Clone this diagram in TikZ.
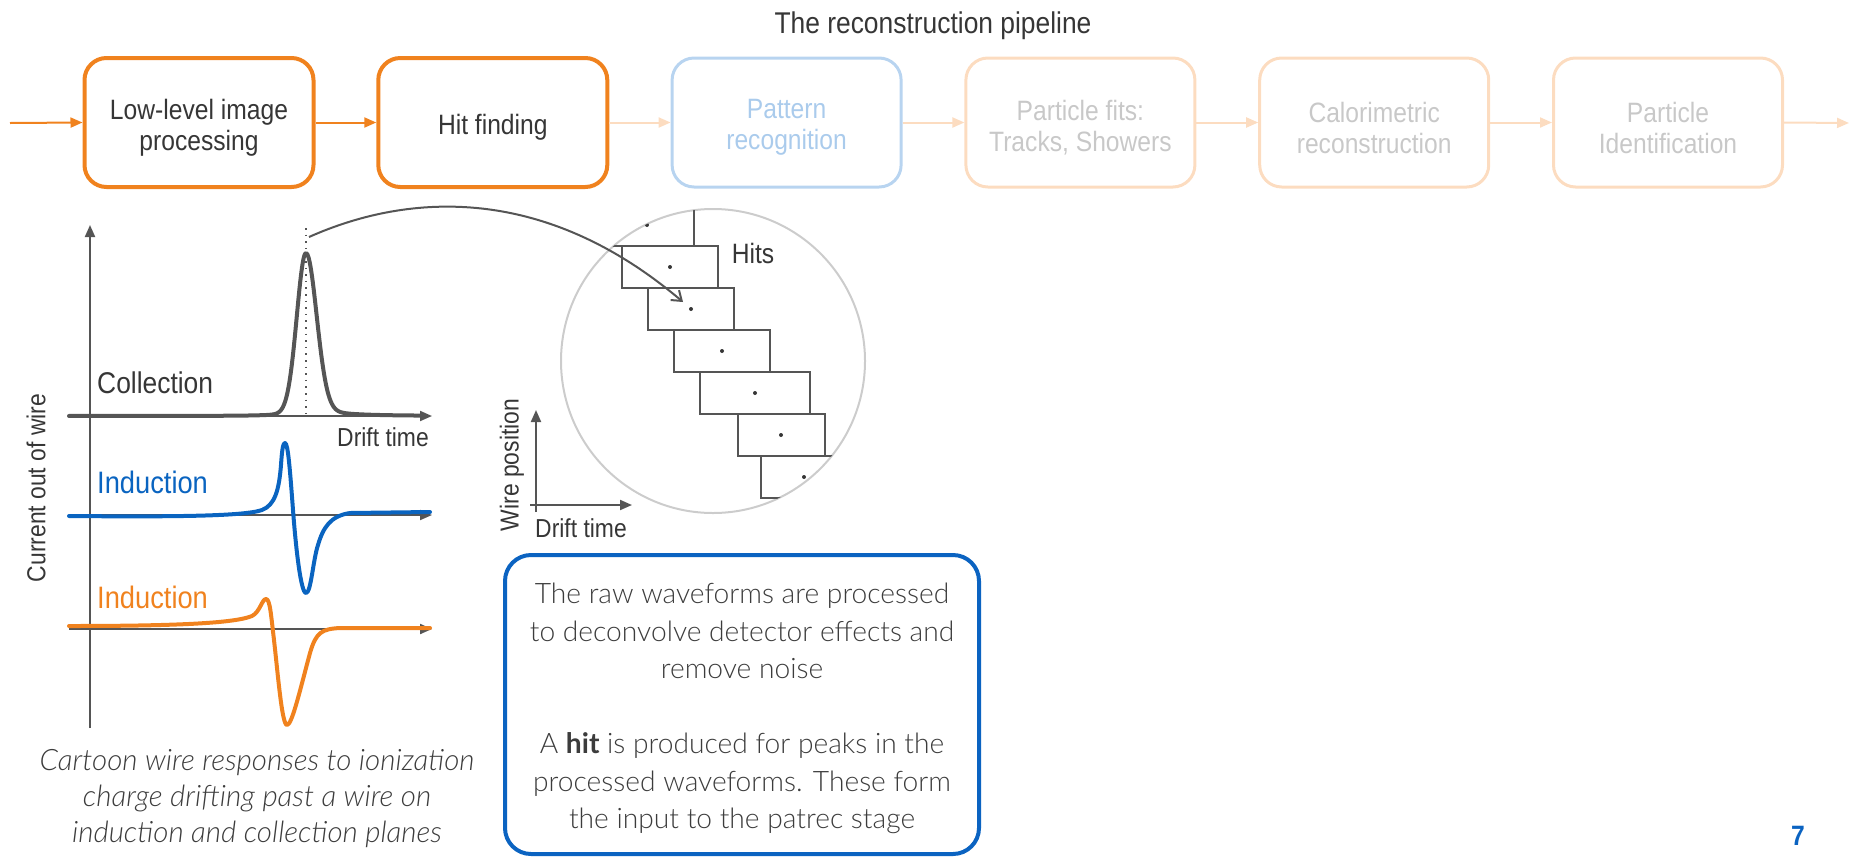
\documentclass[tikz,border=0pt]{standalone}
\usepackage{fontspec}
\setmainfont{Liberation Sans}[FakeStretch=0.88]
\newfontfamily\lato{Lato}[UprightFont=* Light, ItalicFont=* Light Italic, BoldFont=* Bold]
\usetikzlibrary{arrows.meta}

\definecolor{pipeorange}{HTML}{F0821E}
\definecolor{paleorange}{HTML}{FCDCC0}
\definecolor{paleblue}{HTML}{B8D4F0}
\definecolor{paletext}{HTML}{C8C8C8}
\definecolor{palebluetext}{HTML}{AACBEC}
\definecolor{ink}{HTML}{363636}
\definecolor{bodyink}{HTML}{3C3C3C}
\definecolor{axisgray}{HTML}{555555}
\definecolor{sigblue}{HTML}{0A64C0}
\definecolor{boxblue}{HTML}{0B63C1}
\definecolor{ringgray}{HTML}{CCCCCC}

\tikzset{
  stage/.style={draw, rounded corners=22pt, minimum width=229pt, minimum height=129pt, inner sep=0pt},
  activestage/.style={stage, draw=pipeorange, line width=4pt},
  nextstage/.style={stage, draw=paleblue, line width=3pt},
  laterstage/.style={stage, draw=paleorange, line width=3pt},
  stagetext/.style={align=center, inner sep=0pt, font=\fontsize{28}{31}\selectfont},
  flow/.style={line width=2pt, -{Triangle[length=12pt,width=10pt]}},
  axis/.style={draw=axisgray, line width=2pt, -{Triangle[length=12pt,width=10pt]}},
  signal/.style={line width=4pt, line cap=round, line join=round},
  hitbox/.style={draw=axisgray, line width=2pt},
  label/.style={inner sep=0pt, text=ink},
}

\begin{document}
\begin{tikzpicture}[x=1pt, y=-1pt]
\useasboundingbox (0,0) rectangle (1851,857);

% ---- pipeline header ----
\node[label, font=\fontsize{30}{34}\selectfont] (title) at (933,26) {The reconstruction pipeline};

\node[activestage] (s1) at (199,122.5) {};
\node[activestage] (s2) at (492.8,122.5) {};
\node[nextstage]   (s3) at (786.6,122.5) {};
\node[laterstage]  (s4) at (1080.4,122.5) {};
\node[laterstage]  (s5) at (1374.2,122.5) {};
\node[laterstage]  (s6) at (1668,122.5) {};

\node[stagetext, text=ink] (s1t) at ([yshift=-5pt]s1.center) {Low-level image\\processing};
\node[stagetext, text=ink] (s2t) at ([yshift=-5pt]s2.center) {Hit finding};
\node[stagetext, text=palebluetext] (s3t) at ([yshift=-5pt]s3.center) {Pattern\\recognition};
\node[stagetext, text=paletext] (s4t) at ([yshift=-5pt]s4.center) {Particle fits:\\Tracks, Showers};
\node[stagetext, text=paletext] (s5t) at ([yshift=-5pt]s5.center) {Calorimetric\\reconstruction};
\node[stagetext, text=paletext] (s6t) at ([yshift=-5pt]s6.center) {Particle\\Identification};

\coordinate (pin) at (10,123);
\coordinate (pout) at (1849,123);
\draw[flow, pipeorange] (pin) -- (s1.west);
\draw[flow, pipeorange] (s1.east) -- (s2.west);
\draw[flow, paleorange] (s2.east) -- (s3.west);
\draw[flow, paleorange] (s3.east) -- (s4.west);
\draw[flow, paleorange] (s4.east) -- (s5.west);
\draw[flow, paleorange] (s5.east) -- (s6.west);
\draw[flow, paleorange] (s6.east) -- (pout);

% ---- wire response cartoon ----
\coordinate (ybot) at (90,728);
\coordinate (ytop) at (90,225);
\draw[axis] (ybot) -- (ytop);
\coordinate (c0) at (69,416);  \coordinate (c1) at (432,416);
\coordinate (v0) at (69,515);  \coordinate (v1) at (432,515);
\coordinate (u0) at (69,629);  \coordinate (u1) at (432,629);
\draw[axis] (c0) -- (c1);
\draw[axis] (v0) -- (v1);
\draw[axis] (u0) -- (u1);

% collection: unipolar peak
\draw[signal, axisgray] plot[domain=69:420, samples=300, smooth]
  (\x, {416 - 155*exp(-((\x-306)/(\x<306 ? 13 : 15))^2) - 8/(1+((\x-306)/(\x<306 ? 15 : 28))^2)});
\coordinate (peaktop) at (306,228);
\coordinate (peakfoot) at (306,413);
\draw[axisgray, line width=1.6pt, dash pattern=on 1.6pt off 5pt] (peaktop) -- (peakfoot);

% induction (blue): bipolar
\draw[signal, sigblue] (69,516) .. controls (180,517) and (245,516) .. (262,510)
  .. controls (275,505) and (279,490) .. (281,465)
  .. controls (282,450) and (283,443) .. (285,443)
  .. controls (288,443) and (290,470) .. (293,510)
  .. controls (296,550) and (301,593) .. (306,593)
  .. controls (311,593) and (313,560) .. (318,545)
  .. controls (323,528) and (330,516) .. (350,513)
  -- (430,512);

% induction (orange): bipolar
\draw[signal, pipeorange] (69,626) .. controls (180,626) and (235,623) .. (252,616)
  .. controls (260,612) and (262,599) .. (266,599)
  .. controls (270,599) and (271,615) .. (274,640)
  .. controls (278,675) and (282,725) .. (287,725)
  .. controls (292,725) and (300,690) .. (310,653)
  .. controls (316,632) and (322,629) .. (340,628)
  -- (430,628);

\node[label, font=\fontsize{30}{34}\selectfont, anchor=base west] (lcol) at (97,393) {Collection};
\node[label, font=\fontsize{26}{30}\selectfont] (ldrift) at (383,437) {Drift time};
\node[label, font=\fontsize{31}{34}\selectfont, anchor=base west, text=sigblue] (lind1) at (97,493) {Induction};
\node[label, font=\fontsize{31}{34}\selectfont, anchor=base west, text=pipeorange] (lind2) at (97,608) {Induction};
\node[label, font=\fontsize{26}{30}\selectfont, rotate=90] (lcur) at (36,488) {Current out of wire};

\node[label, align=center, text=bodyink, font=\lato\itshape\fontsize{29.5}{36}\selectfont] (caption) at (257,799)
  {Cartoon wire responses to ionization\\charge drifting past a wire on\\induction and collection planes};

% ---- hits in the drift-time / wire view ----
\node[circle, draw=ringgray, line width=2pt, minimum size=304pt, inner sep=0pt] (lens) at (713,361) {};
\begin{scope}
  \clip (713,361) circle (152);
  \draw[hitbox] (590,204) rectangle (694,246);
  \draw[hitbox] (622,246) rectangle (718,288);
  \draw[hitbox] (648,288) rectangle (734,330);
  \draw[hitbox] (674,330) rectangle (770,372);
  \draw[hitbox] (700,372) rectangle (810,414);
  \draw[hitbox] (738,414) rectangle (825,456);
  \draw[hitbox] (761,456) rectangle (880,498);
  \foreach \p in {(647,225),(670,267),(691,309),(722,351),(755,393),(781,435),(804,477)}
    \fill[ink] \p circle (2);
\end{scope}
\node[label, font=\fontsize{28}{32}\selectfont] (lhits) at (753,253) {Hits};

\coordinate (wo) at (536,512);
\coordinate (wtop) at (536,410);
\coordinate (to) at (530,505);
\coordinate (tright) at (632,505);
\draw[axis] (wo) -- (wtop);
\draw[axis] (to) -- (tright);
\node[label, font=\fontsize{26}{30}\selectfont, rotate=90] (lwire) at (512,465) {Wire position};
\node[label, font=\fontsize{26}{30}\selectfont] (ldrift2) at (581,528) {Drift time};

% pointer from the peak to a hit
\coordinate (hitstart) at (309,237);
\coordinate (hitend) at (683,302);
\draw[axisgray, line width=2pt, -{Straight Barb[length=9pt,width=13pt]}]
  (hitstart) .. controls (410,192) and (545,185) .. (hitend);

% ---- explanation box ----
\node[draw=boxblue, line width=4pt, rounded corners=26pt, minimum width=474pt, minimum height=299pt,
  inner sep=0pt] (note) at (742,704.5) {};
\node[align=center, inner sep=0pt, text=bodyink, font=\lato\fontsize{28.2}{37.5}\selectfont] (notetext)
  at ([yshift=-4pt]note.center)
  {The raw waveforms are processed\\to deconvolve detector effects and\\remove noise\\[37.5pt]
   A \textbf{hit} is produced for peaks in the\\processed waveforms. These form\\the input to the patrec stage};

\node[label, text=boxblue, font=\bfseries\fontsize{28}{30}\selectfont] (pagenum) at (1798,836) {7};
\end{tikzpicture}
\end{document}
